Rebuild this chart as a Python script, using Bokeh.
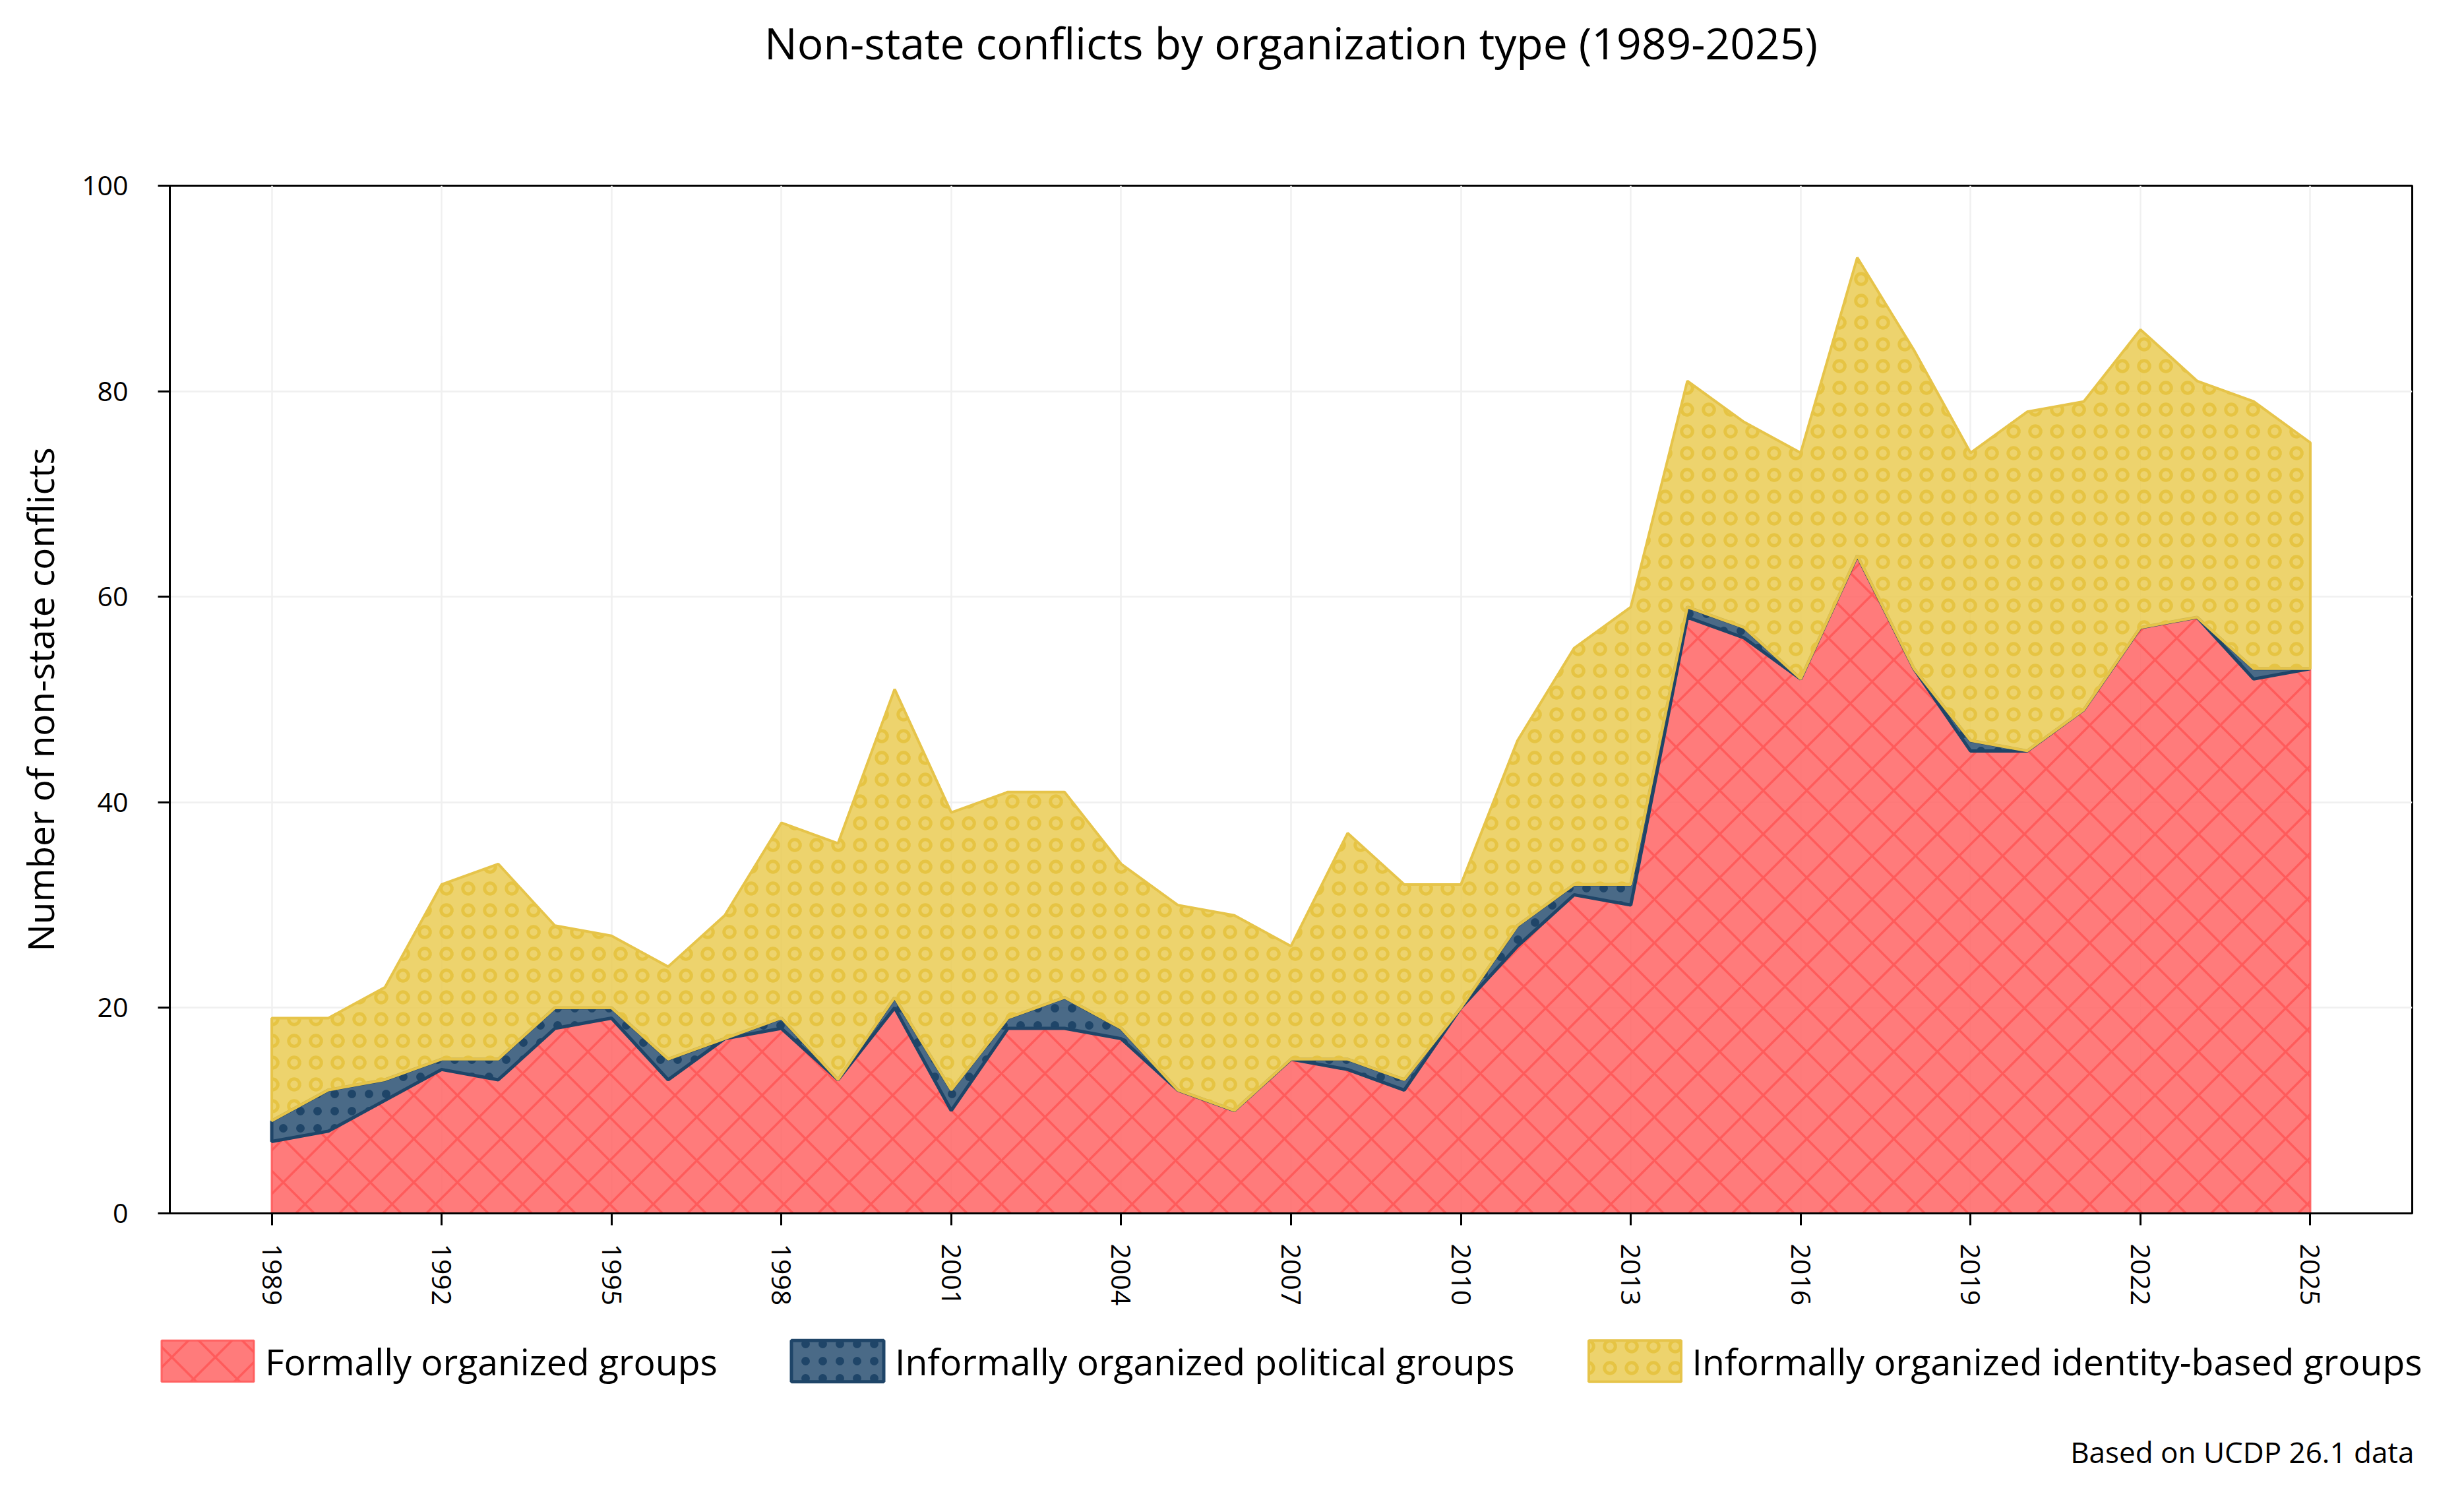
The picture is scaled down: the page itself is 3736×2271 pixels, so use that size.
import numpy as np
from bokeh.plotting import figure
from bokeh.layouts import column
from bokeh.models import FixedTicker, Label, Legend, LegendItem, Range1d
from bokeh.embed import file_html
from bokeh.resources import INLINE

# Non-state conflicts per year, by type of organization (UCDP 26.1)
years = list(range(1989, 2026))
formally_organized = [7, 8, 11, 14, 13, 18, 19, 13, 17, 18, 13, 20, 10, 18, 18, 17, 12, 10, 15,
                      14, 12, 20, 26, 31, 30, 58, 56, 52, 64, 53, 45, 45, 49, 57, 58, 52, 53]
informal_political = [2, 4, 2, 1, 2, 2, 1, 2, 0, 1, 0, 1, 2, 1, 3, 1, 0, 0, 0,
                      1, 1, 0, 2, 1, 2, 1, 1, 0, 0, 0, 1, 0, 0, 0, 0, 1, 0]
informal_identity = [10, 7, 9, 17, 19, 8, 7, 9, 12, 19, 23, 30, 27, 22, 20, 16, 18, 19, 11,
                     22, 19, 12, 18, 23, 27, 22, 20, 22, 29, 31, 28, 33, 30, 29, 23, 26, 22]

series_names = ["Formally organized groups",
                "Informally organized political groups",
                "Informally organized identity-based groups"]
x_ticks = list(range(1989, 2026, 3))
y_ticks = [0, 20, 40, 60, 80, 100]

TITLE = "Non-state conflicts by organization type (1989-2025)"
NOTE = "Based on UCDP 26.1 data"
FONT = "Open Sans"

# page geometry: header strip, chart, legend/note strip
W = 3736
HEADER_H = 241
CHART_TOP, FRAME_H, CHART_BOTTOM = 40, 1558, 160
CHART_H = CHART_TOP + FRAME_H + CHART_BOTTOM
FOOTER_H = 2271 - HEADER_H - CHART_H
LEFT, RIGHT = 257, 79
FRAME_RIGHT = W - RIGHT


def blank_strip(height):
    """A figure without axes whose frame covers the whole canvas."""
    f = figure(width=W, height=height, title=None,
               x_range=Range1d(0, 1), y_range=Range1d(0, 1),
               x_axis_location=None, y_axis_location=None,
               output_backend="svg", toolbar_location=None,
               min_border=0, outline_line_color=None,
               background_fill_color="white", border_fill_color="white")
    f.grid.visible = False
    try:
        f.frame_align = False
        origin = 0
    except Exception:
        origin = LEFT
    return f, origin


# ---- header with the title ----
header, hx0 = blank_strip(HEADER_H)
header.add_layout(Label(x=LEFT + (FRAME_RIGHT - LEFT) / 2 - hx0, y=HEADER_H - 63,
                        x_units="screen", y_units="screen", text=TITLE,
                        text_font=FONT, text_font_size="66px", text_color="black",
                        text_align="center", text_baseline="alphabetic"))

# ---- main chart ----
p = figure(width=W, height=CHART_H, title=None,
           x_range=Range1d(1987.2, 2026.8), y_range=Range1d(0, 100),
           output_backend="svg", toolbar_location=None,
           min_border_left=LEFT, min_border_right=RIGHT,
           min_border_top=CHART_TOP, min_border_bottom=CHART_BOTTOM,
           background_fill_color="white", border_fill_color="white")
p.outline_line_color = "black"
p.outline_line_width = 3

values = np.array([formally_organized, informal_political, informal_identity], dtype=float)
tops = np.cumsum(values, axis=0)
bottoms = tops - values

styles = [
    dict(fill_color="#ff6464", fill_alpha=0.85, line_color="#ff5a5a", line_width=3, line_alpha=0.9,
         hatch_pattern="diagonal_cross", hatch_color="#ff5a5a", hatch_alpha=0.95,
         hatch_scale=66, hatch_weight=3.5),
    dict(fill_color="#2a5072", fill_alpha=0.85, line_color="#1f4568", line_width=5, line_alpha=1.0,
         hatch_pattern="dot", hatch_color="#1f4568", hatch_alpha=1.0,
         hatch_scale=26, hatch_weight=1),
    dict(fill_color="#eacb54", fill_alpha=0.85, line_color="#e6c44a", line_width=4, line_alpha=1.0,
         hatch_pattern="ring", hatch_color="#e6c23e", hatch_alpha=0.9,
         hatch_scale=33, hatch_weight=5),
]

band_xs, band_ys = [], []
for i, style in enumerate(styles):
    xs = years + years[::-1]
    ys = list(tops[i]) + list(bottoms[i][::-1])
    band_xs.append(xs)
    band_ys.append(ys)
    p.patch(xs, ys, **style)

for grid in (p.xgrid, p.ygrid):
    grid.grid_line_color = "#f0f0f0"
    grid.grid_line_width = 2.5
p.xgrid.ticker = FixedTicker(ticks=x_ticks)
p.ygrid.ticker = FixedTicker(ticks=y_ticks)

for ax in (p.xaxis[0], p.yaxis[0]):
    ax.axis_line_color = "black"
    ax.axis_line_width = 3
    ax.major_tick_line_color = "black"
    ax.major_tick_line_width = 3
    ax.major_tick_out = 18
    ax.major_tick_in = 0
    ax.minor_tick_line_color = None
    ax.major_label_text_font = FONT
    ax.major_label_text_font_size = "41px"
    ax.major_label_text_color = "black"

p.xaxis[0].ticker = FixedTicker(ticks=x_ticks)
p.xaxis[0].major_label_orientation = "vertical"
p.xaxis[0].major_label_standoff = 28

p.yaxis[0].ticker = FixedTicker(ticks=y_ticks)
p.yaxis[0].major_label_standoff = 45
p.yaxis[0].axis_label = "Number of non-state conflicts"
p.yaxis[0].axis_label_text_font = FONT
p.yaxis[0].axis_label_text_font_size = "55px"
p.yaxis[0].axis_label_text_font_style = "normal"
p.yaxis[0].axis_label_text_color = "black"
p.yaxis[0].axis_label_standoff = 23

try:
    p.frame_align = False
except Exception:
    pass

# ---- footer with the legend and the source note ----
footer, fx0 = blank_strip(FOOTER_H)
# legend swatches: the same bands and styling, kept outside this strip's view
swatches = [footer.patch(xs, ys, **style) for xs, ys, style in zip(band_xs, band_ys, styles)]
# area swatches are drawn inset by 10% of the glyph box on every side
GLYPH_W, GLYPH_H = 175, 78
legend = Legend(
    items=[LegendItem(label=name, renderers=[r]) for name, r in zip(series_names, swatches)],
    orientation="horizontal", location=(227 - fx0, 169),
    glyph_width=GLYPH_W, glyph_height=GLYPH_H, label_height=78,
    label_standoff=0, spacing=94, padding=0, margin=0,
    border_line_color=None, background_fill_alpha=0,
    label_text_font=FONT, label_text_font_size="55.3px", label_text_color="black",
)
footer.add_layout(legend)
note_right = 3660 if fx0 == 0 else FRAME_RIGHT - 2
footer.add_layout(Label(x=note_right - fx0, y=FOOTER_H - 201, x_units="screen", y_units="screen",
                        text=NOTE, text_font=FONT, text_font_size="44px", text_color="black",
                        text_align="right", text_baseline="alphabetic"))

page = column(header, p, footer, spacing=0)
open("out.html", "w").write(file_html(page, INLINE))
